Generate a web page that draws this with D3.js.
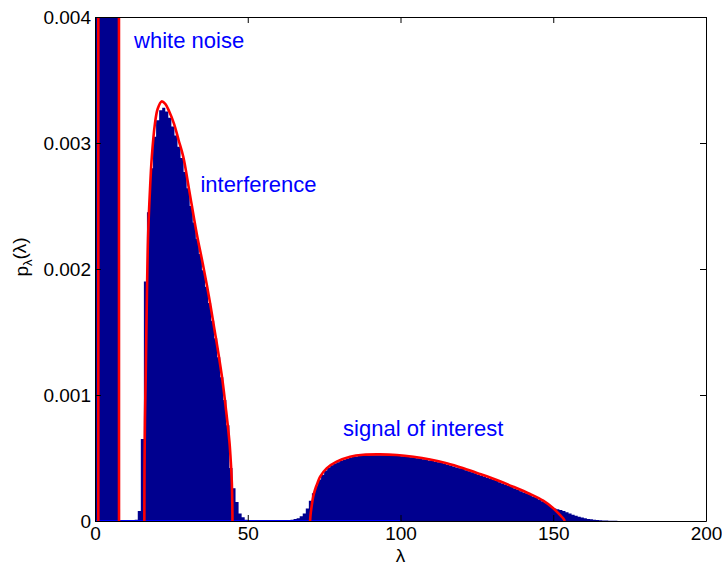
<!DOCTYPE html>
<html><head><meta charset="utf-8">
<script src="https://cdn.jsdelivr.net/npm/d3@7"></script>
<style>
body{margin:0;background:#fff}
svg{display:block}
text{font-family:"Liberation Sans",Arial,Helvetica,sans-serif}
</style>
</head><body>
<svg id="chart" width="722" height="564"></svg>
<script>
// ---------- DATA ----------
const xTicks = [0, 50, 100, 150, 200];
const xTickLabels = ["0", "50", "100", "150", "200"];
const yTicks = [0, 0.001, 0.002, 0.003, 0.004];
const yTickLabels = ["0", "0.001", "0.002", "0.003", "0.004"];

const binWidth = 1;
// white noise bulk (clipped well above the top of the axes)
const noiseBinStart = 0;
const noiseBinValues = [0.012, 0.22, 0.2, 0.16, 0.12, 0.09, 0.06, 0.03];
// interference bulk
const interfBinStart = 13;
const interfBinValues = [0.00001, 0.00008, 0.00065, 0.0019, 0.00245, 0.0028, 0.00305, 0.00318,
  0.00326, 0.00328, 0.00325, 0.0032, 0.00313, 0.00306, 0.00297, 0.00288, 0.00277, 0.00264,
  0.0025, 0.00237, 0.00224, 0.00212, 0.00199, 0.00186, 0.00173, 0.00159, 0.00145, 0.0013,
  0.00114, 0.00096, 0.00076, 0.00042, 0.00026, 0.00015, 0.00006, 0.00003, 0.00001];
// signal of interest bulk
const signalBinStart = 58;
const signalBinValues = [0.000001, 0.000002, 0.000003, 0.000004, 0.000005, 0.000007, 0.00001,
  0.000015, 0.000022, 0.000038, 0.00006, 0.0001, 0.00016, 0.00022, 0.00028, 0.00033, 0.000368,
  0.0004, 0.000425, 0.000443, 0.000456, 0.000467, 0.000477, 0.000486, 0.000494, 0.000502,
  0.000507, 0.000511, 0.000515, 0.000518, 0.000519, 0.00052, 0.000521, 0.000522, 0.000522,
  0.000522, 0.000522, 0.000521, 0.00052, 0.000519, 0.000517, 0.000515, 0.000513, 0.000511,
  0.000508, 0.000505, 0.000502, 0.000498, 0.000494, 0.00049, 0.000486, 0.000481, 0.000477,
  0.000471, 0.000466, 0.00046, 0.000454, 0.000447, 0.00044, 0.000433, 0.000425, 0.000418,
  0.000412, 0.000403, 0.000395, 0.000387, 0.000379, 0.00037, 0.000362, 0.000353, 0.000344,
  0.000335, 0.000327, 0.000317, 0.000308, 0.000298, 0.000288, 0.000278, 0.000269, 0.000258,
  0.000248, 0.000237, 0.000227, 0.000216, 0.000206, 0.000194, 0.000182, 0.00017, 0.000157,
  0.000142, 0.000126, 0.000111, 0.0001, 0.000094, 0.000088, 0.00008, 0.00007, 0.00006, 0.00005,
  0.000042, 0.000034, 0.000027, 0.000021, 0.000016, 0.000013, 0.00001, 0.000008, 0.000006,
  0.000004, 0.000003, 0.000002, 0.000001, 0.000001];

// theoretical densities (red curves)
const noiseCurveLambda = [1.08, 1.1, 1.3, 2, 3, 4, 5, 6, 7, 7.7, 7.84, 7.86];
const noiseCurveDensity = [0, 0.03, 0.12, 0.2, 0.17, 0.13, 0.1, 0.07, 0.04, 0.015, 0.005, 0];
const interfCurveLambda = [16.15, 16.2, 16.35, 16.6, 17.0, 17.4, 18.0, 18.6, 19.6, 20.5, 21.8,
  23.0, 24.3, 25.9, 27.4, 28.9, 30.8, 33.3, 35.3, 37.3, 39.1, 40.4, 41.7, 42.8, 44.0, 44.5,
  44.8, 44.95, 45.0];
const interfCurveDensity = [0, 0.0004, 0.0008, 0.00115, 0.0018, 0.00228, 0.00263, 0.00289,
  0.00315, 0.00327, 0.00333, 0.00331, 0.00325, 0.00315, 0.00302, 0.00289, 0.00263, 0.00228,
  0.00204, 0.00178, 0.00152, 0.00133, 0.00112, 0.0009, 0.00063, 0.00045, 0.0003, 0.00012, 0];
const signalCurveLambda = [70.4, 70.6, 70.9, 71.4, 72.0, 72.8, 73.7, 75.8, 79.1, 83.5, 87.8,
  93.3, 98.8, 104.2, 109.7, 115.1, 120.6, 126.0, 131.5, 136.9, 142.4, 146.7, 150.0, 152.2,
  153.3, 153.8];
const signalCurveDensity = [0, 0.00006, 0.000114, 0.00019, 0.000246, 0.0003, 0.000352, 0.000418,
  0.000471, 0.00051, 0.000526, 0.000529, 0.000524, 0.00051, 0.000488, 0.000458, 0.000418,
  0.000373, 0.000325, 0.000272, 0.000214, 0.000161, 0.000101, 0.000048, 0.00002, 0];

// blue zero line
const baselineLambda = [0, 100];
const baselineDensity = [0, 0];

const annotationText = ["white noise", "interference", "signal of interest"];
const annotationLambda = [12.8, 34.5, 81.2];
const annotationDensity = [0.003754, 0.002611, 0.000675];

// ---------- LAYOUT ----------
const svg = d3.select("#chart");
const L = 95, R = 706, T = 17, B = 521;
const x = d3.scaleLinear().domain([0, 200]).range([L, R]);
const y = d3.scaleLinear().domain([0, 0.004]).range([B, T]);
const NAVY = "#00008f";

svg.append("defs").append("clipPath").attr("id", "clip")
  .append("rect").attr("x", L).attr("y", T).attr("width", R - L).attr("height", B - T);

const plot = svg.append("g").attr("clip-path", "url(#clip)");

// histogram: each bulk drawn as one stepped shape of adjacent bars (no seams)
const histArea = d3.area()
  .x(d => x(d.x)).y0(y(0)).y1(d => y(d.v))
  .curve(d3.curveStepAfter);
function binPoints(start, values) {
  const pts = values.map((v, i) => ({ x: start + i * binWidth, v }));
  pts.push({ x: start + values.length * binWidth, v: values[values.length - 1] });
  return pts;
}
[[noiseBinStart, noiseBinValues], [interfBinStart, interfBinValues], [signalBinStart, signalBinValues]]
  .forEach(([s, vals]) => {
    plot.append("path").datum(binPoints(s, vals)).attr("d", histArea).attr("fill", NAVY);
  });

// blue zero line
const zipPts = (a, b) => a.map((v, i) => [v, b[i]]);
const lineLin = d3.line().x(d => x(d[0])).y(d => y(d[1]));
plot.append("path").datum(zipPts(baselineLambda, baselineDensity))
  .attr("d", lineLin).attr("fill", "none").attr("stroke", "#0000ff").attr("stroke-width", 2);

// red curves
const lineSmooth = d3.line().x(d => x(d[0])).y(d => y(d[1])).curve(d3.curveCatmullRom.alpha(0.5));
const red = { fill: "none", stroke: "#ff0000", "stroke-width": 2.6, "stroke-linejoin": "round" };
function redPath(pts, gen) {
  const p = plot.append("path").datum(pts).attr("d", gen);
  Object.entries(red).forEach(([k, v]) => p.attr(k, v));
}
redPath(zipPts(noiseCurveLambda, noiseCurveDensity), lineLin);
redPath(zipPts(interfCurveLambda, interfCurveDensity), lineSmooth);
redPath(zipPts(signalCurveLambda, signalCurveDensity), lineSmooth);

// axes (MATLAB style: box, inward ticks on all sides)
const FS = 19;
function styleAxis(g) {
  g.attr("font-size", FS).attr("font-family", '"Liberation Sans",Arial,Helvetica,sans-serif');
  g.selectAll("path.domain").attr("stroke", "#000").attr("stroke-width", 1);
  g.selectAll(".tick line").attr("stroke", "#000").attr("stroke-width", 1);
  g.selectAll(".tick text").attr("fill", "#000");
}
svg.append("g").attr("transform", `translate(0,${B})`)
  .call(d3.axisBottom(x).tickValues(xTicks).tickFormat((d, i) => xTickLabels[i])
    .tickSizeInner(-6).tickSizeOuter(0).tickPadding(5.5)).call(styleAxis);
svg.append("g").attr("transform", `translate(0,${T})`)
  .call(d3.axisTop(x).tickValues(xTicks).tickFormat("")
    .tickSizeInner(-6).tickSizeOuter(0)).call(styleAxis);
svg.append("g").attr("transform", `translate(${L},0)`)
  .call(d3.axisLeft(y).tickValues(yTicks).tickFormat((d, i) => yTickLabels[i])
    .tickSizeInner(-6).tickSizeOuter(0).tickPadding(4)).call(styleAxis);
svg.append("g").attr("transform", `translate(${R},0)`)
  .call(d3.axisRight(y).tickValues(yTicks).tickFormat("")
    .tickSizeInner(-6).tickSizeOuter(0)).call(styleAxis);

// axis labels
svg.append("text").attr("x", (L + R) / 2).attr("y", 561.5).attr("text-anchor", "middle")
  .attr("font-size", FS).attr("fill", "#000").text("λ");
const yl = svg.append("text").attr("transform", "translate(28,257) rotate(-90)")
  .attr("text-anchor", "middle").attr("font-size", FS).attr("fill", "#000");
yl.append("tspan").text("p");
yl.append("tspan").attr("font-size", 13).attr("dy", "0.3em").text("λ");
yl.append("tspan").attr("dy", "-0.3em").text("(λ)");

// annotations
svg.append("g").selectAll("text").data(annotationText).join("text")
  .attr("x", (d, i) => x(annotationLambda[i]))
  .attr("y", (d, i) => y(annotationDensity[i]))
  .attr("font-size", 22).attr("fill", "#0000ff")
  .text(d => d);
</script>
</body></html>
